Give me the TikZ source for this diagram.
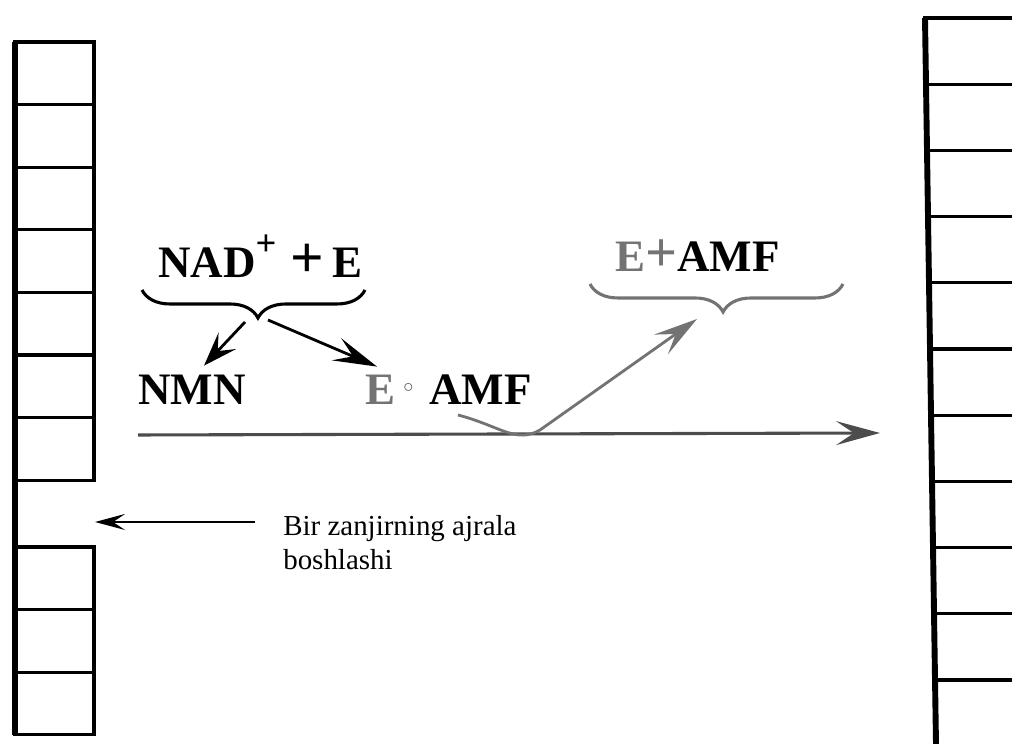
\documentclass[tikz,border=0pt]{standalone}
\usepackage{fontspec}
\setmainfont{Liberation Serif}
\usetikzlibrary{arrows.meta,decorations.pathreplacing,calc}
\begin{document}
\begin{tikzpicture}[
  rail/.style={line width=4.2pt},
  rung/.style={line width=2.2pt, line cap=rect},
  chem/.style={font=\fontsize{32}{38}\selectfont\bfseries, inner sep=0pt},
  pale/.style={black!55},
  arr/.style={line width=2pt, -{Stealth[length=1.1cm,width=0.6cm,inset=0.45cm]}},
  bracket/.style={line width=2.2pt, decorate, decoration={brace,mirror,amplitude=0.7cm,aspect=#1}},
]
\useasboundingbox (0,0) rectangle (25.3,18.6);
\draw[rail] (0.375,17.55) -- (0.375,0.23);
\foreach \i in {0,...,7}
  \draw[rung] (0.375,17.55-1.565*\i) -- (2.35,17.55-1.565*\i);
\draw[rung] (2.35,17.55) -- (2.35,6.595);
\foreach \i in {0,...,3}
  \draw[rung] (0.375,4.925-1.565*\i) -- (2.35,4.925-1.565*\i);
\draw[rung] (2.35,4.925) -- (2.35,0.23);
\coordinate (rtop) at (23.125,18.15);
\coordinate (rbot) at (23.4,0);
\coordinate (redge) at (25.3,0);
\draw[rail] (rtop) -- (rbot);
\foreach \i in {0,...,10} {
  \coordinate (r\i) at ($(rtop)!{\i*1.655/18.15}!(rbot)$);
  \draw[rung] (r\i) -- (r\i -| redge);
}
\node[chem, anchor=base west] (nad) at (3.95,11.65)
  {NAD\raisebox{0.5em}{\fontsize{26}{26}\selectfont +}\hspace{0.35cm}{\fontsize{42}{42}\selectfont +}\hspace{0.2cm}E};
\node[chem, anchor=base west] (nmn) at (3.45,8.475) {NMN};
\node[chem, anchor=base west] (eamf) at (9.125,8.475)
  {\textcolor{black!55}{E}\hspace{0.2cm}\raisebox{0.32cm}{\fontsize{14}{14}\selectfont\textcolor{black!65}{$\circ$}}\hspace{0.4cm}AMF};
\node[chem, anchor=base west] (eplus) at (15.375,11.8)
  {\textcolor{black!55}{E{\fontsize{40}{40}\selectfont +}}AMF};
\node[font=\fontsize{20.6}{24.1}\selectfont, align=left, anchor=north west, inner sep=0pt] (note) at (7.075,5.725)
  {Bir zanjirning ajrala\\boshlashi};
\coordinate (b1l) at (3.55,11.35);
\coordinate (b1r) at (9.125,11.35);
\coordinate (tip1) at (6.45,10.65);
\draw[bracket=0.52] (b1l) -- (b1r);
\coordinate (b2l) at (14.75,11.5);
\coordinate (b2r) at (21.075,11.5);
\draw[bracket=0.526, pale] (b2l) -- (b2r);
\draw[arr, -{Stealth[length=0.85cm,width=0.6cm,inset=0.35cm]}] ([shift={(-0.325,-0.1)}]tip1) -- ([shift={(0.3,0.24)}]nmn.north);
\draw[arr] ([shift={(0.25,-0.05)}]tip1) -- ([shift={(0.3,0.21)}]eamf.north west);
\coordinate (lineL) at (3.45,7.725);
\coordinate (lineR) at (22.0,7.775);
\draw[arr, black!70, line width=2.2pt] (lineL) -- (lineR);
\coordinate (cstart) at (11.45,8.225);
\coordinate (cend) at (17.425,10.625);
\draw[arr, pale] (cstart) .. controls (12.5,7.95) and (12.9,7.5) .. (13.5,7.85) -- (cend);
\coordinate (gap) at (2.375,5.55);
\draw[arr, -{Stealth[length=0.75cm,width=0.4cm,inset=0.3cm]}] ([shift={(-0.7,-0.175)}]note.north west) -- (gap);
\end{tikzpicture}
\end{document}
